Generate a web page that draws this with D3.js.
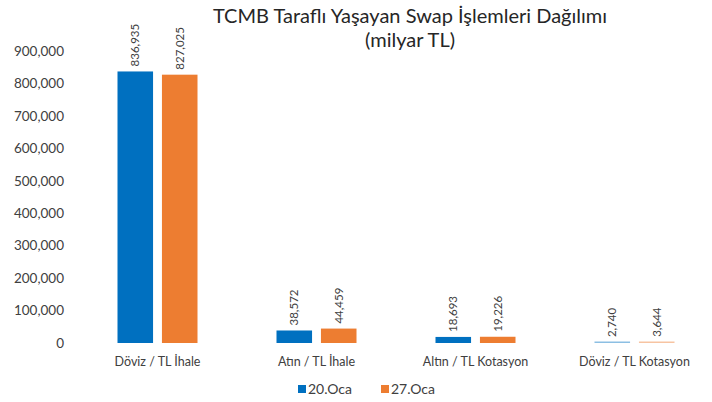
<!DOCTYPE html>
<html>
<head>
<meta charset="utf-8">
<script src="https://cdn.jsdelivr.net/npm/d3@7"></script>
<style>
  body { margin: 0; background: #fff; }
  text { font-family: Lato, "Open Sans", sans-serif; }
</style>
</head>
<body>
<script>
// chart data
var categories = ["Döviz / TL İhale", "Atın / TL İhale", "Altın / TL Kotasyon", "Döviz / TL Kotasyon"];
var seriesNames = ["20.Oca", "27.Oca"];
var values20 = [836935, 38572, 18693, 2740];
var values27 = [827025, 44459, 19226, 3644];
var yTicks = [0, 100000, 200000, 300000, 400000, 500000, 600000, 700000, 800000, 900000];

var colors = ["#0070C0", "#ED7D31"];

var w = 712, h = 402;

var svg = d3.select("body").append("svg")
    .attr("width", w)
    .attr("height", h);

// scales
var y = d3.scaleLinear()
    .domain([0, 900000])
    .range([343, 51]);

var x0 = d3.scaleBand()
    .domain(categories)
    .range([78, 714]);

var groupW = 80;
var x1 = d3.scaleBand()
    .domain(seriesNames)
    .range([(x0.bandwidth() - groupW) / 2, (x0.bandwidth() + groupW) / 2])
    .paddingInner(0.2);

var fmt = d3.format(",");

// title
var title = svg.append("text")
    .attr("text-anchor", "middle")
    .attr("x", 410)
    .attr("y", 23)
    .style("font-size", "20px")
    .style("fill", "#262626");
title.append("tspan").attr("x", 410).text("TCMB Taraflı Yaşayan Swap İşlemleri Dağılımı");
title.append("tspan").attr("x", 410).attr("dy", 24).text("(milyar TL)");

// y axis (labels only)
var yAxis = d3.axisLeft(y)
    .tickValues(yTicks)
    .tickFormat(fmt)
    .tickSize(0)
    .tickPadding(0);

svg.append("g")
    .attr("transform", "translate(64,0)")
    .call(yAxis)
    .call(function(g){ g.select(".domain").remove(); })
    .selectAll("text")
    .style("font-family", "Lato, 'Open Sans', sans-serif")
    .style("font-size", "13.5px")
    .style("fill", "#404040");

// bars
var rows = categories.map(function(c, i){
    return { cat: c, vals: [values20[i], values27[i]] };
});

var groups = svg.selectAll(".grp")
    .data(rows)
    .enter()
    .append("g")
    .attr("class", "grp")
    .attr("transform", function(d){ return "translate(" + x0(d.cat) + ",0)"; });

groups.selectAll("rect")
    .data(function(d){ return d.vals.map(function(v, j){ return { s: seriesNames[j], v: v, j: j }; }); })
    .enter()
    .append("rect")
    .attr("x", function(d){ return x1(d.s); })
    .attr("y", function(d){ return Math.min(y(d.v), y(0) - 1.5); })
    .attr("width", x1.bandwidth())
    .attr("height", function(d){ return Math.max(y(0) - y(d.v), 1.5); })
    .style("fill", function(d){ return colors[d.j]; })
    .style("opacity", function(d){ return d.v < 5000 ? 0.45 : 1; });

// rotated value labels
groups.selectAll(".val")
    .data(function(d){ return d.vals.map(function(v, j){ return { s: seriesNames[j], v: v }; }); })
    .enter()
    .append("text")
    .attr("class", "val")
    .attr("transform", function(d){
        var cx = x1(d.s) + x1.bandwidth() / 2 + 4;
        return "translate(" + cx + "," + (y(d.v) - 5) + ") rotate(-90)";
    })
    .attr("text-anchor", "start")
    .style("font-size", "11.5px")
    .style("fill", "#404040")
    .text(function(d){ return fmt(d.v); });

// category labels
svg.selectAll(".cat")
    .data(categories)
    .enter()
    .append("text")
    .attr("class", "cat")
    .attr("x", function(d){ return x0(d) + x0.bandwidth() / 2; })
    .attr("y", 366)
    .attr("text-anchor", "middle")
    .style("font-size", "12.5px")
    .style("fill", "#404040")
    .text(function(d){ return d; });

// legend
var legend = svg.selectAll(".leg")
    .data(seriesNames)
    .enter()
    .append("g")
    .attr("class", "leg")
    .attr("transform", function(d, i){ return "translate(" + (298 + i * 83) + ",386)"; });

legend.append("rect")
    .attr("width", 8)
    .attr("height", 8)
    .attr("y", -1)
    .style("fill", function(d, i){ return colors[i]; });

legend.append("text")
    .attr("x", 10)
    .attr("y", 8)
    .style("font-size", "14px")
    .style("fill", "#404040")
    .text(function(d){ return d; });
</script>
</body>
</html>
